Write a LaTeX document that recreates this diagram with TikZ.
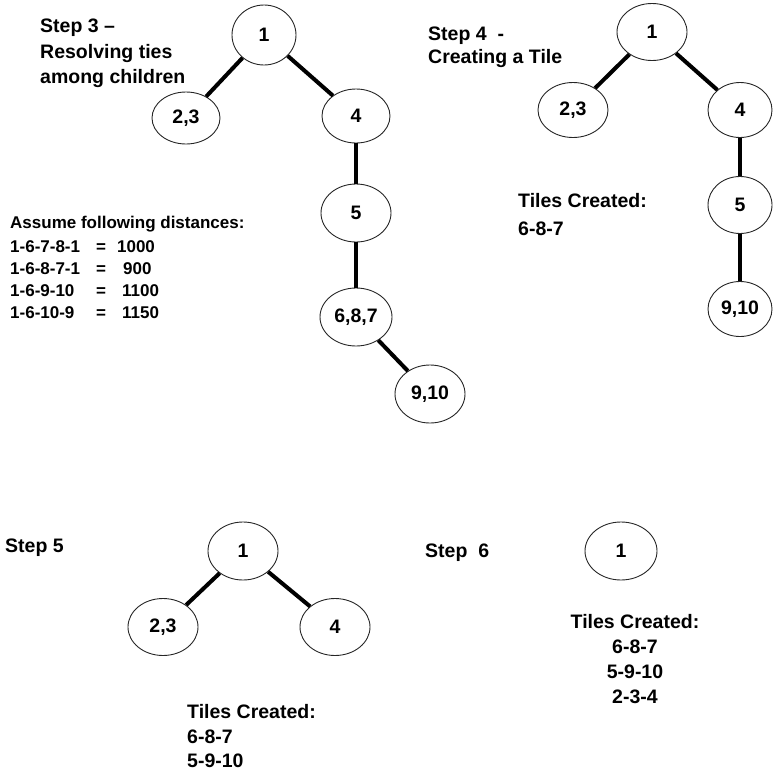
\documentclass[tikz,border=0pt]{standalone}
\usepackage{fontspec}
\setmainfont{Liberation Sans}
\usetikzlibrary{shapes.geometric}
\begin{document}
\begin{tikzpicture}[x=1pt,y=-1pt,
  ell/.style={ellipse,draw=black!85,line width=0.9pt,inner sep=0pt,
    minimum width=70pt,minimum height=57pt,
    font=\fontsize{19.5}{20}\selectfont\bfseries},
  edge/.style={line width=4pt,black},
  lbl/.style={anchor=base west,inner sep=0pt,font=\fontsize{19.5}{20}\selectfont\bfseries},
  sml/.style={anchor=base west,inner sep=0pt,font=\fontsize{17}{18}\selectfont\bfseries},
  ctr/.style={anchor=base,inner sep=0pt,font=\fontsize{19.5}{20}\selectfont\bfseries}]
\useasboundingbox (0,0) rectangle (773,774);

% ---------- Step 3 ----------
\node[lbl] (s3a) at (40,32) {Step 3 –};
\node[lbl] (s3b) at (40,58) {Resolving ties};
\node[lbl] (s3c) at (40,83) {among children};

\node[ell,minimum width=64pt,minimum height=60pt] (a1) at (264,35) {1};
\node[ell,minimum width=68pt,minimum height=52pt] (a23) at (186,118) {2,3};
\node[ell,minimum width=68pt,minimum height=54pt] (a4) at (356,116) {4};
\node[ell,minimum height=58pt] (a5) at (356,213) {5};
\node[ell,minimum width=72pt,minimum height=58pt] (a687) at (356,317) {6,8,7};
\node[ell,minimum height=58pt] (a910) at (430,394) {9,10};
\draw[edge] (a1) -- (a23);
\draw[edge] (a1) -- (a4);
\draw[edge] (a4) -- (a5);
\draw[edge] (a5) -- (a687);
\draw[edge] (a687) -- (a910);

\node[sml] (d0) at (10,228) {Assume following distances:};
\node[sml] (d1) at (10,252) {\makebox[86pt][l]{1-6-7-8-1}=\hspace{11pt}1000};
\node[sml] (d2) at (10,274) {\makebox[86pt][l]{1-6-8-7-1}=\hspace{17pt}900};
\node[sml] (d3) at (10,296) {\makebox[86pt][l]{1-6-9-10}=\hspace{16pt}1100};
\node[sml] (d4) at (10,318) {\makebox[86pt][l]{1-6-10-9}=\hspace{16pt}1150};

% ---------- Step 4 ----------
\node[lbl] (s4a) at (428,40) {Step 4~~-};
\node[lbl] (s4b) at (428,63) {Creating a Tile};

\node[ell] (b1) at (652,32) {1};
\node[ell,minimum height=55pt] (b23) at (573,110) {2,3};
\node[ell,minimum width=64pt,minimum height=55pt] (b4) at (740,110) {4};
\node[ell,minimum width=64pt] (b5) at (740,205) {5};
\node[ell,minimum width=64pt,minimum height=55pt] (b910) at (740,309) {9,10};
\draw[edge] (b1) -- (b23);
\draw[edge] (b1) -- (b4);
\draw[edge] (b4) -- (b5);
\draw[edge] (b5) -- (b910);

\node[lbl] (t4a) at (518,207) {Tiles Created:};
\node[lbl] (t4b) at (518,235) {6-8-7};

% ---------- Step 5 ----------
\node[lbl] (s5) at (5,552) {Step 5};
\node[ell,minimum height=58pt] (c1) at (243,551) {1};
\node[ell] (c23) at (163,627) {2,3};
\node[ell] (c4) at (335,627) {4};
\draw[edge] (c1) -- (c23);
\draw[edge] (c1) -- (c4);

\node[lbl] (t5a) at (187,718) {Tiles Created:};
\node[lbl] (t5b) at (187,743) {6-8-7};
\node[lbl] (t5c) at (187,767) {5-9-10};

% ---------- Step 6 ----------
\node[lbl] (s6) at (425,557) {Step~~6};
\node[ell,minimum width=72pt,minimum height=58pt] (e1) at (621,551) {1};

\node[ctr] (t6a) at (635,628) {Tiles Created:};
\node[ctr] (t6b) at (635,653) {6-8-7};
\node[ctr] (t6c) at (635,678) {5-9-10};
\node[ctr] (t6d) at (635,703) {2-3-4};
\end{tikzpicture}
\end{document}
